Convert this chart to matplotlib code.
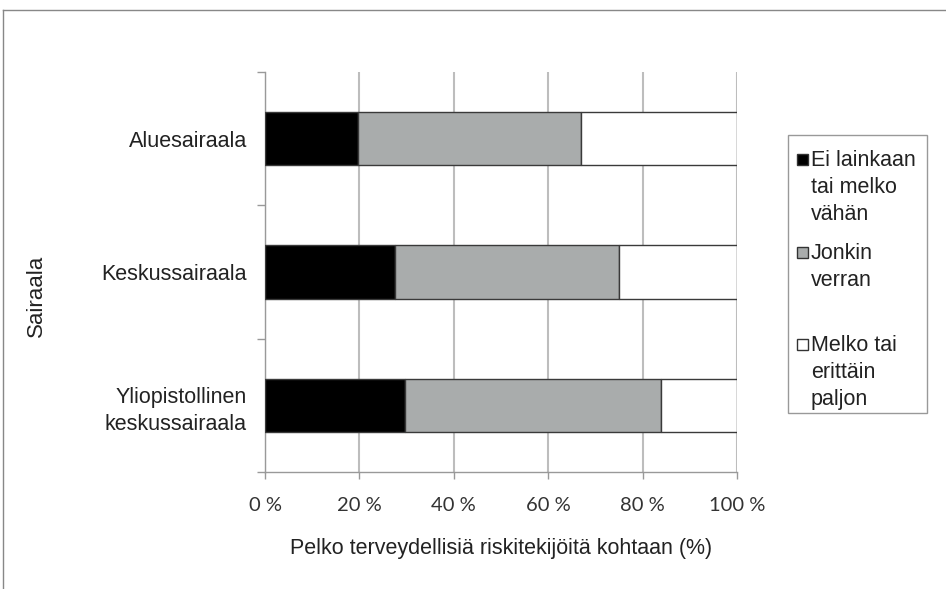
import matplotlib.pyplot as plt
from matplotlib.lines import Line2D
from matplotlib.patches import Rectangle

# Data
hospitals = ['Aluesairaala', 'Keskussairaala', 'Yliopistollinen\nkeskussairaala']
not_at_all = [19.6, 27.6, 29.7]
somewhat = [47.4, 47.3, 54.3]
very_much = [33.0, 25.1, 16.0]
series_names = ['Ei lainkaan\ntai melko\nvähän', 'Jonkin\nverran', 'Melko tai\nerittäin\npaljon']
colors = ['#000000', '#a9acac', '#ffffff']
xticks = [0, 20, 40, 60, 80, 100]

W, H = 946, 589
fig = plt.figure(figsize=(9.46, 5.89), dpi=100)
ax = fig.add_axes([265/W, 1 - 472/H, 472/W, 400/H])

# categories top to bottom
ypos = [2, 1, 0]
left = [0, 0, 0]
for vals, col in zip([not_at_all, somewhat, very_much], colors):
    ax.barh(ypos, vals, left=left, height=0.4, color=col,
            edgecolor='#3a3a3a', linewidth=1.0, zorder=3)
    left = [l + v for l, v in zip(left, vals)]

ax.set_xlim(0, 100)
ax.set_ylim(-0.5, 2.5)
ax.set_xticks(xticks)
ax.set_xticklabels([f'{v} %' for v in xticks], fontsize=14.5, color='#333333',
                   family=['Lato', 'DejaVu Sans'])
ax.set_yticks(ypos)
ax.set_yticklabels(hospitals, fontsize=15.5, family='Liberation Sans', ha='right',
                   color='#222222', linespacing=1.4)
ax.set_yticks([-0.5, 0.5, 1.5, 2.5], minor=True)
ax.tick_params(axis='y', which='major', length=0, pad=13)
ax.tick_params(axis='y', which='minor', length=6, color='#999999', width=1)
ax.tick_params(axis='x', length=5, color='#999999', width=1, pad=13)

for s in ['top', 'right']:
    ax.spines[s].set_visible(False)
for s in ['left', 'bottom']:
    ax.spines[s].set_color('#999999')
    ax.spines[s].set_linewidth(1)
ax.grid(axis='x', color='#bdbdbd', linewidth=1.5, zorder=0)
ax.set_axisbelow(True)

ax.set_xlabel('Pelko terveydellisiä riskitekijöitä kohtaan (%)', fontsize=15.5,
              family='Liberation Sans', color='#222222', labelpad=17)
ax.set_ylabel('Sairaala', fontsize=16, family='Liberation Sans', color='#222222')
ax.yaxis.set_label_coords(-218/472, 0.44)

# legend box drawn by hand so markers sit on the first text line
fig.add_artist(Rectangle((788/W, 1 - 413/H), 139/W, 278/H, transform=fig.transFigure,
                         facecolor='white', edgecolor='#999999', linewidth=1))
leg_top = [153, 246, 338]
for name, col, y in zip(series_names, colors, leg_top):
    fig.add_artist(Rectangle((797/W, 1 - (y + 12)/H), 11/W, 11/H, transform=fig.transFigure,
                             facecolor=col, edgecolor='#333333', linewidth=1))
    fig.text(811/W, 1 - (y - 3)/H, name, fontsize=15.5, family='Liberation Sans',
             va='top', ha='left', linespacing=1.38, color='#222222')

# outer frame lines
fig.add_artist(Line2D([3/W, 1], [1 - 10/H, 1 - 10/H], transform=fig.transFigure,
                      color='#888888', linewidth=1))
fig.add_artist(Line2D([3/W, 3/W], [0, 1 - 10/H], transform=fig.transFigure,
                      color='#888888', linewidth=1))

fig.savefig('out.png', dpi=100)
